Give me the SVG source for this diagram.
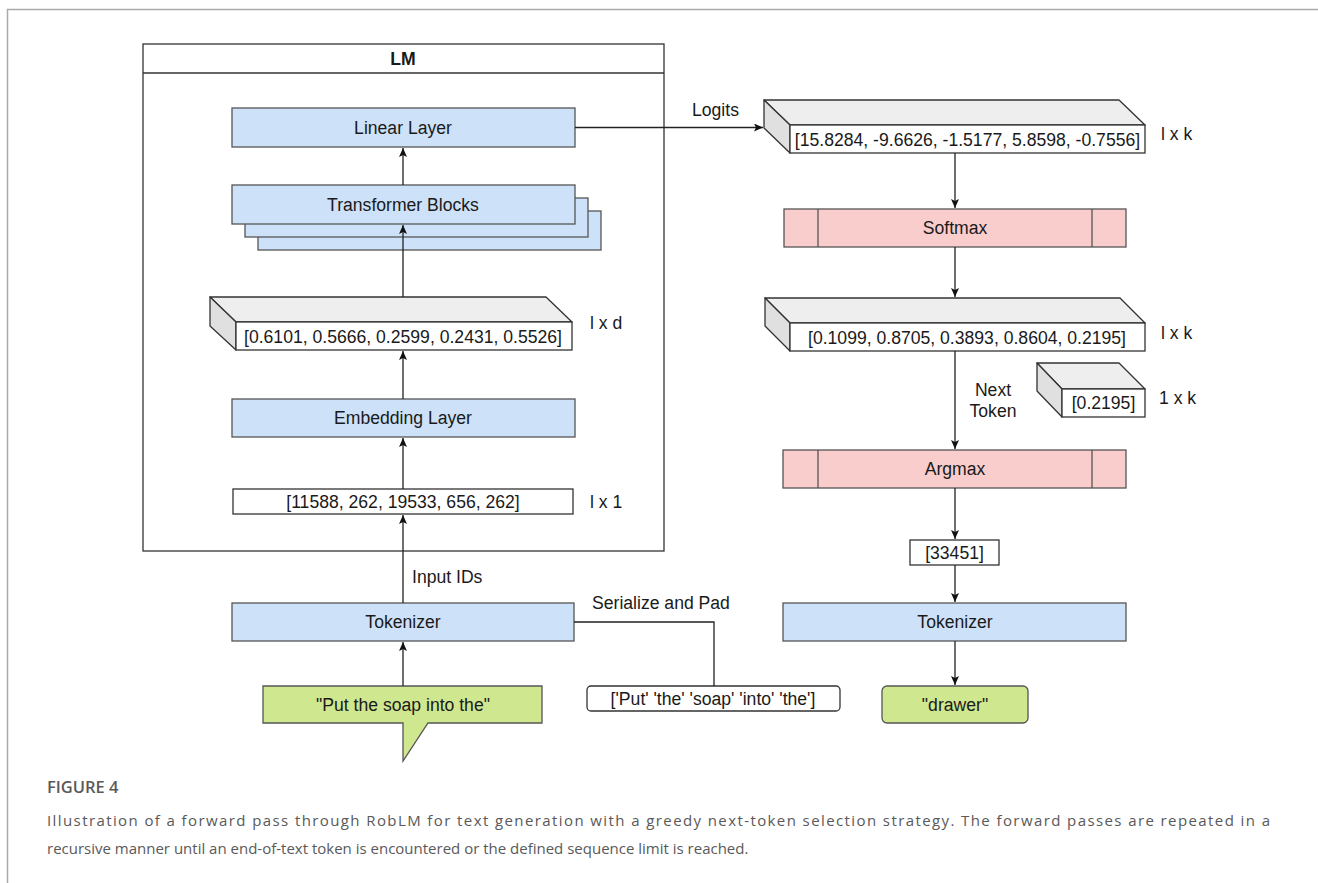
<svg xmlns="http://www.w3.org/2000/svg" width="1318" height="883" viewBox="0 0 1318 883">
<style>
text{font-family:"Liberation Sans",Arial,sans-serif;font-size:17.6px;fill:#1a1a1a}
.c{text-anchor:middle;dominant-baseline:central}
.l{dominant-baseline:central}
.blue{fill:#cde1f8;stroke:#555;stroke-width:1.3}
.pink{fill:#f8cdcc;stroke:#555;stroke-width:1.3}
.green{fill:#cfe78f;stroke:#555;stroke-width:1.3}
.white{fill:#fff;stroke:#333;stroke-width:1.3}
.top{fill:#eeeeee;stroke:#333;stroke-width:1.3;stroke-linejoin:round}
.side{fill:#e0e0e0;stroke:#333;stroke-width:1.3;stroke-linejoin:round}
.ln{fill:none;stroke:#222;stroke-width:1.3}
.cap{font-family:"Open Sans","Liberation Sans",sans-serif;fill:#595959;font-size:15px}
</style>
<defs>
<marker id="ah" markerWidth="10" markerHeight="10" refX="9" refY="4" orient="auto" markerUnits="userSpaceOnUse">
<path d="M0,0 L9,4 L0,8 L2,4 z" fill="#111"/>
</marker>
</defs>
<rect width="1318" height="883" fill="#fff"/>
<path d="M7.5,883 V9.5 H1318" fill="none" stroke="#aaa" stroke-width="1.5"/>

<g id="lm">
<rect x="143" y="44" width="521" height="507" fill="#fff" stroke="#333" stroke-width="1.3"/>
<line x1="143" y1="73" x2="664" y2="73" stroke="#333" stroke-width="1.3"/>
<text x="403" y="59" class="c" style="font-weight:bold">LM</text>
</g>

<g id="linear">
<rect class="blue" x="232" y="108" width="343" height="39"/>
<text x="403" y="127.5" class="c">Linear Layer</text>
</g>

<g id="transformer">
<rect class="blue" x="258" y="211" width="343" height="39"/>
<rect class="blue" x="245" y="198" width="343" height="39"/>
<rect class="blue" x="232" y="185" width="343" height="39"/>
<text x="403" y="204.5" class="c">Transformer Blocks</text>
</g>

<g id="embvec">
<path class="top" d="M210,297 H546 L572,322 H236 Z"/>
<path class="side" d="M210,297 L236,322 V350 L210,326 Z"/>
<rect class="white" x="236" y="322" width="336" height="28"/>
<text x="403" y="337" class="c">[0.6101, 0.5666, 0.2599, 0.2431, 0.5526]</text>
<text x="590" y="323" class="l">l x d</text>
</g>

<g id="embedding">
<rect class="blue" x="232" y="399" width="343" height="38"/>
<text x="403" y="418" class="c">Embedding Layer</text>
</g>

<g id="inputids">
<rect class="white" x="233" y="489" width="340" height="25"/>
<text x="403" y="502" class="c">[11588, 262, 19533, 656, 262]</text>
<text x="590" y="502" class="l">l x 1</text>
</g>

<g id="tokenizer1">
<rect class="blue" x="232" y="603" width="342" height="38"/>
<text x="403" y="622" class="c">Tokenizer</text>
</g>

<g id="prompt">
<path class="green" d="M263,686 H542 V723 H428 L403,761 V723 H263 Z"/>
<text x="403" y="704.5" class="c">"Put the soap into the"</text>
</g>

<g id="serialized">
<rect class="white" x="587" y="686" width="253" height="25" rx="4"/>
<text x="713" y="698.5" class="c">['Put' 'the' 'soap' 'into' 'the']</text>
</g>

<g id="logits">
<path class="top" d="M764,100 H1119 L1145,125 H790 Z"/>
<path class="side" d="M764,100 L790,125 V153 L764,128 Z"/>
<rect class="white" x="790" y="125" width="355" height="28"/>
<text x="967.5" y="140" class="c">[15.8284, -9.6626, -1.5177, 5.8598, -0.7556]</text>
<text x="1161" y="134" class="l">l x k</text>
</g>

<g id="softmax">
<rect class="pink" x="784" y="209" width="342" height="38"/>
<line x1="818" y1="209" x2="818" y2="247" stroke="#555" stroke-width="1.3"/>
<line x1="1092" y1="209" x2="1092" y2="247" stroke="#555" stroke-width="1.3"/>
<text x="955" y="228" class="c">Softmax</text>
</g>

<g id="probs">
<path class="top" d="M765,298 H1120 L1145,323 H790 Z"/>
<path class="side" d="M765,298 L790,323 V351 L765,326 Z"/>
<rect class="white" x="790" y="323" width="355" height="28"/>
<text x="967" y="338" class="c">[0.1099, 0.8705, 0.3893, 0.8604, 0.2195]</text>
<text x="1161" y="333" class="l">l x k</text>
</g>

<g id="nexttoken">
<path class="top" d="M1037,363 H1119 L1145,389 H1062 Z"/>
<path class="side" d="M1037,363 L1062,389 V417 L1037,391 Z"/>
<rect class="white" x="1062" y="389" width="83" height="28"/>
<text x="1103.5" y="403" class="c">[0.2195]</text>
<text x="1159" y="398" class="l">1 x k</text>
</g>

<g id="argmax">
<rect class="pink" x="783" y="450" width="343" height="38"/>
<line x1="818" y1="450" x2="818" y2="488" stroke="#555" stroke-width="1.3"/>
<line x1="1092" y1="450" x2="1092" y2="488" stroke="#555" stroke-width="1.3"/>
<text x="955" y="469" class="c">Argmax</text>
</g>

<g id="tokenid">
<rect class="white" x="910" y="540" width="89" height="25"/>
<text x="954.5" y="552.5" class="c">[33451]</text>
</g>

<g id="tokenizer2">
<rect class="blue" x="783" y="603" width="343" height="38"/>
<text x="955" y="622" class="c">Tokenizer</text>
</g>

<g id="output">
<rect class="green" x="882" y="686" width="146" height="37" rx="5"/>
<text x="955" y="704.5" class="c">"drawer"</text>
</g>

<g id="connectors">
<line class="ln" x1="403" y1="185" x2="403" y2="148" marker-end="url(#ah)"/>
<line class="ln" x1="403" y1="297" x2="403" y2="225" marker-end="url(#ah)"/>
<line class="ln" x1="403" y1="399" x2="403" y2="351" marker-end="url(#ah)"/>
<line class="ln" x1="403" y1="489" x2="403" y2="438" marker-end="url(#ah)"/>
<line class="ln" x1="403" y1="603" x2="403" y2="515" marker-end="url(#ah)"/>
<line class="ln" x1="403" y1="686" x2="403" y2="642" marker-end="url(#ah)"/>
<path class="ln" d="M574,622 H714 V686"/>
<line class="ln" x1="575" y1="127.5" x2="763" y2="127.5" marker-end="url(#ah)"/>
<line class="ln" x1="955" y1="153" x2="955" y2="208" marker-end="url(#ah)"/>
<line class="ln" x1="955" y1="247" x2="955" y2="297" marker-end="url(#ah)"/>
<line class="ln" x1="955" y1="351" x2="955" y2="449" marker-end="url(#ah)"/>
<line class="ln" x1="955" y1="488" x2="955" y2="539" marker-end="url(#ah)"/>
<line class="ln" x1="955" y1="565" x2="955" y2="602" marker-end="url(#ah)"/>
<line class="ln" x1="955" y1="641" x2="955" y2="685" marker-end="url(#ah)"/>
<text x="692" y="110" class="l">Logits</text>
<text x="412" y="577" class="l">Input IDs</text>
<text x="592" y="603" class="l">Serialize and Pad</text>
<text x="993" y="390" class="c">Next</text>
<text x="993" y="411" class="c">Token</text>
</g>

<g id="caption">
<text x="47" y="793" class="cap" style="font-weight:600;font-size:16.5px">FIGURE 4</text>
<text x="47" y="826" class="cap" textLength="1223" lengthAdjust="spacing">Illustration of a forward pass through RobLM for text generation with a greedy next-token selection strategy. The forward passes are repeated in a</text>
<text x="47" y="854" class="cap">recursive manner until an end-of-text token is encountered or the defined sequence limit is reached.</text>
</g>
</svg>
